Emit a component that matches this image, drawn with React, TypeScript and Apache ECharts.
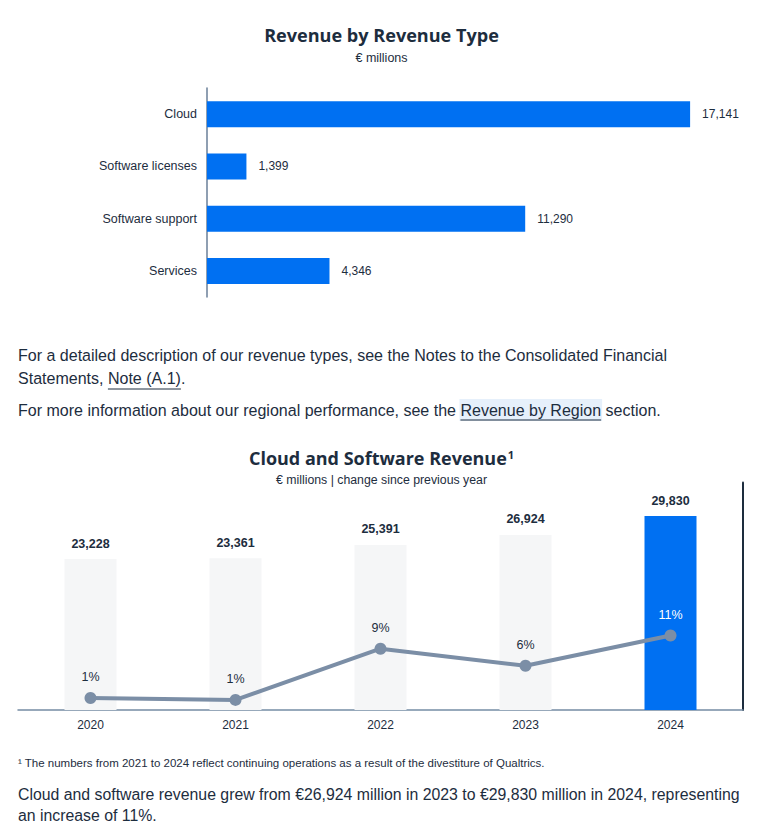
import React, { useEffect, useRef } from "react";
import * as echarts from "echarts";

// ---- Data ----
const revenueTypes = ["Cloud", "Software licenses", "Software support", "Services"];
const revenueTypeValues = [17141, 1399, 11290, 4346];

const years = ["2020", "2021", "2022", "2023", "2024"];
const cloudSoftwareRevenue = [23228, 23361, 25391, 26924, 29830];
const changeSincePrevYear = [0.9, 0.6, 8.7, 6.0, 10.8];
const changeLabels = ["1%", "1%", "9%", "6%", "11%"];

const FONT = "'Liberation Sans', Arial, sans-serif";
const TITLE_FONT = "'Open Sans', 'Noto Sans', sans-serif";
const DARK = "#1d2d3e";
const BLUE = "#0070f2";
const GREY_BAR = "#f5f6f7";
const LINE = "#7b8ea6";

function measure(str: string, size: number, family: string, weight = "normal"): number {
  const c = document.createElement("canvas").getContext("2d");
  if (!c) return str.length * size * 0.45;
  c.font = `${weight} ${size}px ${family}`;
  return c.measureText(str).width;
}

// font size that makes str span the given width
function fit(str: string, width: number, family: string, weight = "normal"): number {
  return (100 * width) / measure(str, 100, family, weight);
}

export default function App() {
  const ref = useRef<HTMLDivElement>(null);

  useEffect(() => {
    if (!ref.current) return;
    const chart = echarts.init(ref.current, undefined, { renderer: "svg" });

    const para1 = "For a detailed description of our revenue types, see the Notes to the Consolidated Financial";
    const P = Math.min(17, fit(para1, 650, FONT));
    const last1 = "Cloud and software revenue grew from €26,924 million in 2023 to €29,830 million in 2024, representing";
    const PL = Math.min(17, fit(last1, 722, FONT));
    const T1 = "Revenue by Revenue Type";
    const T1S = Math.min(20, fit(T1, 235, TITLE_FONT, "bold"));
    const T2 = "Cloud and Software Revenue";
    const T2S = Math.min(20, fit(T2, 258, TITLE_FONT, "bold"));

    const line2a = "Statements, ";
    const line2b = "Note (A.1)";
    const line3a = "For more information about our regional performance, see the ";
    const line3b = "Revenue by Region";
    const w2a = measure(line2a, P, FONT);
    const w2b = measure(line2b, P, FONT);
    const w3a = measure(line3a, P, FONT);
    const w3b = measure(line3b, P, FONT);

    const textEl = (text: string, x: number, y: number, size: number, extra: any = {}) => ({
      type: "text",
      x,
      y,
      silent: true,
      style: {
        text,
        fill: DARK,
        fontSize: size,
        fontFamily: FONT,
        verticalAlign: "middle",
        align: "left",
        ...extra,
      },
    });

    chart.setOption({
      animation: false,
      backgroundColor: "#ffffff",
      grid: [
        { left: 207, top: 88, width: 535.5, height: 209, containLabel: false },
        { left: 18, top: 482.5, width: 725, height: 227.5, containLabel: false },
      ],
      xAxis: [
        {
          gridIndex: 0,
          type: "value",
          min: 0,
          max: 19000,
          show: false,
        },
        {
          gridIndex: 1,
          type: "category",
          data: years,
          axisLine: { show: true, lineStyle: { color: "#758ca4", width: 1.5 } },
          axisTick: { show: false },
          axisLabel: { color: DARK, fontSize: 12, fontFamily: FONT, margin: 9 },
        },
      ],
      yAxis: [
        {
          gridIndex: 0,
          type: "category",
          inverse: true,
          data: revenueTypes,
          axisLine: { show: true, lineStyle: { color: "#6a7f98", width: 1.5 } },
          axisTick: { show: false },
          axisLabel: { color: DARK, fontSize: 12.5, fontFamily: FONT, margin: 10 },
        },
        {
          gridIndex: 1,
          type: "value",
          min: 0,
          max: 35000,
          show: false,
          splitLine: { show: false },
        },
        {
          gridIndex: 1,
          type: "value",
          min: -1,
          max: 35,
          position: "right",
          axisLine: { show: true, lineStyle: { color: DARK, width: 2 } },
          axisTick: { show: false },
          axisLabel: { show: false },
          splitLine: { show: false },
        },
      ],
      series: [
        {
          type: "bar",
          xAxisIndex: 0,
          yAxisIndex: 0,
          data: revenueTypeValues,
          barWidth: 26,
          itemStyle: { color: BLUE },
          label: {
            show: true,
            position: "right",
            distance: 12,
            color: DARK,
            fontSize: 12,
            fontFamily: FONT,
            formatter: (p: any) => Number(p.value).toLocaleString("en-US"),
          },
        },
        {
          type: "bar",
          xAxisIndex: 1,
          yAxisIndex: 1,
          barWidth: 52,
          data: cloudSoftwareRevenue.map((v, i) => ({
            value: v,
            itemStyle: { color: i === cloudSoftwareRevenue.length - 1 ? BLUE : GREY_BAR },
          })),
          label: {
            show: true,
            position: "top",
            distance: 9,
            color: DARK,
            fontSize: 12.5,
            fontWeight: "bold",
            fontFamily: FONT,
            formatter: (p: any) => Number(p.value).toLocaleString("en-US"),
          },
          z: 1,
        },
        {
          type: "line",
          xAxisIndex: 1,
          yAxisIndex: 2,
          data: changeSincePrevYear.map((v, i) => ({
            value: v,
            label: i === changeSincePrevYear.length - 1 ? { color: "#ffffff" } : undefined,
          })),
          symbol: "circle",
          symbolSize: 12,
          itemStyle: { color: LINE },
          lineStyle: { color: LINE, width: 4 },
          label: {
            show: true,
            position: "top",
            distance: 8,
            color: DARK,
            fontSize: 12.5,
            fontFamily: FONT,
            formatter: (p: any) => changeLabels[p.dataIndex],
          },
          z: 3,
        },
      ],
      graphic: [
        {
          type: "text",
          x: 381.5,
          y: 35,
          silent: true,
          style: {
            text: T1,
            fill: DARK,
            fontSize: T1S,
            fontWeight: "bold",
            fontFamily: TITLE_FONT,
            align: "center",
            verticalAlign: "middle",
          },
        },
        {
          type: "text",
          x: 381.5,
          y: 58,
          silent: true,
          style: {
            text: "€ millions",
            fill: DARK,
            fontSize: 12.5,
            fontFamily: FONT,
            align: "center",
            verticalAlign: "middle",
          },
        },
        textEl(para1, 18, 355, P),
        textEl("Statements, Note (A.1).", 18, 378, P),
        {
          type: "line",
          silent: true,
          shape: { x1: 18 + w2a, y1: 389, x2: 18 + w2a + w2b, y2: 389 },
          style: { stroke: DARK, lineWidth: 1 },
        },
        {
          type: "rect",
          silent: true,
          shape: { x: 18 + w3a - 1, y: 399, width: w3b + 2, height: 22 },
          style: { fill: "#e6f0fb" },
        },
        textEl("For more information about our regional performance, see the Revenue by Region section.", 18, 410, P),
        {
          type: "line",
          silent: true,
          shape: { x1: 18 + w3a, y1: 420, x2: 18 + w3a + w3b, y2: 420 },
          style: { stroke: DARK, lineWidth: 1 },
        },
        {
          type: "text",
          x: 381.5,
          y: 458,
          silent: true,
          style: {
            text: "{t|" + T2 + "}{s|1}",
            align: "center",
            verticalAlign: "middle",
            rich: {
              t: { fontSize: T2S, fontWeight: "bold", fontFamily: TITLE_FONT, fill: DARK, color: DARK },
              s: { fontSize: 11, fontWeight: "bold", fontFamily: TITLE_FONT, fill: DARK, color: DARK, verticalAlign: "top", padding: [0, 0, 8, 1] },
            },
          },
        },
        {
          type: "text",
          x: 381.5,
          y: 480,
          silent: true,
          style: {
            text: "€ millions | change since previous year",
            fill: DARK,
            fontSize: 12.3,
            fontFamily: FONT,
            align: "center",
            verticalAlign: "middle",
          },
        },
        textEl("¹ The numbers from 2021 to 2024 reflect continuing operations as a result of the divestiture of Qualtrics.", 18, 763, 11.5),
        textEl(last1, 18, 794, PL),
        textEl("an increase of 11%.", 18, 815, PL),
      ],
    });

    return () => chart.dispose();
  }, []);

  return (
    <div
      ref={ref}
      style={{ position: "fixed", left: 0, top: 0, width: 763, height: 826, background: "#fff" }}
    />
  );
}
